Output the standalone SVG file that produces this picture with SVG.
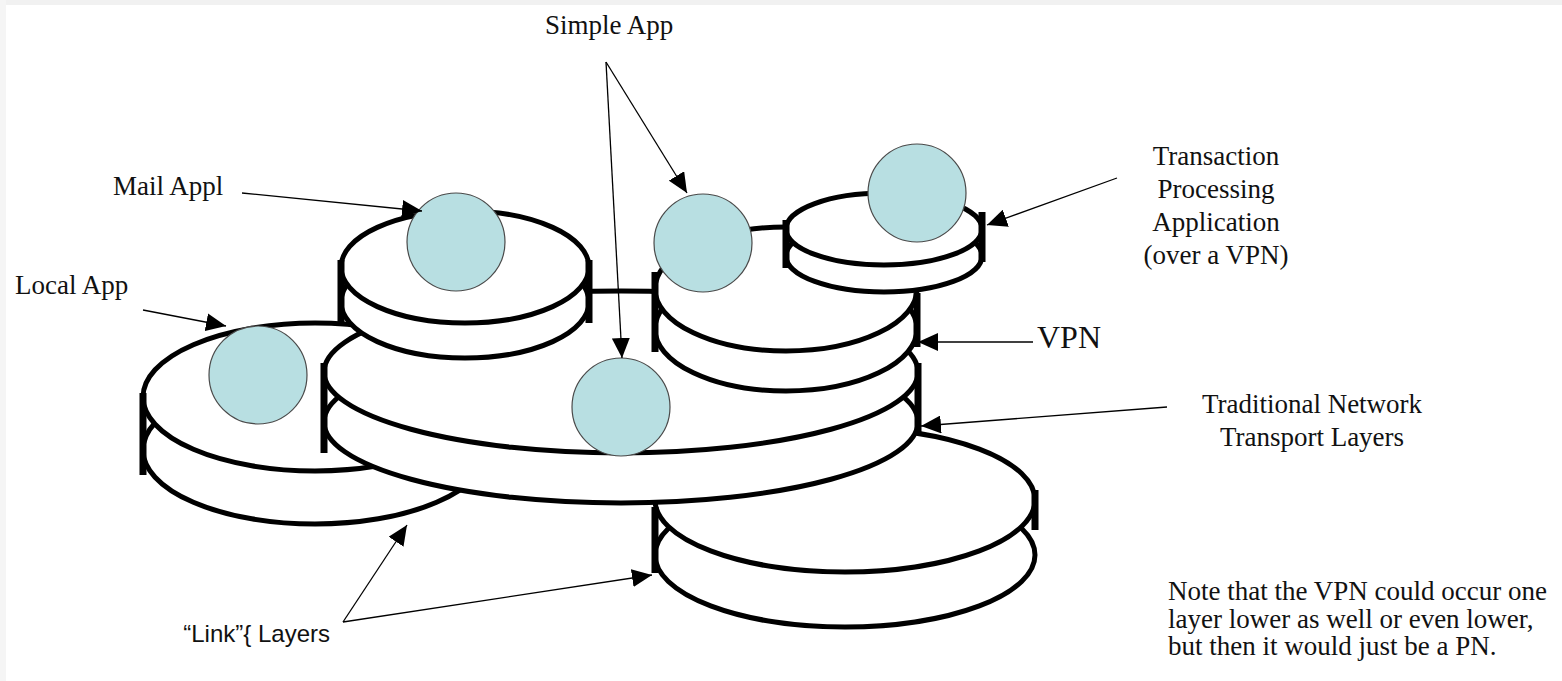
<svg xmlns="http://www.w3.org/2000/svg" width="1562" height="681" viewBox="0 0 1562 681">
  <style>
    .disc ellipse { fill: #ffffff; stroke: #000000; stroke-width: 5; }
    .bar { fill: #000000; }
    .app { fill: #b8dfe2; stroke: #4a4a4a; stroke-width: 1.2; }
    .conn line { stroke: #000000; stroke-width: 1.3; marker-end: url(#ah); }
    .lbl { font-family: "Liberation Serif", "Times New Roman", serif; font-size: 27px; fill: #111111; }
    .lbl-sans { font-family: "Liberation Sans", Arial, sans-serif; font-size: 24px; fill: #111111; }
  </style>
  <defs>
    <marker id="ah" markerUnits="userSpaceOnUse" markerWidth="20" markerHeight="18" refX="20" refY="9" orient="auto">
      <path d="M0,0 L20,9 L0,18 z" fill="#000000"/>
    </marker>
  </defs>

  <rect x="0" y="0" width="1562" height="681" fill="#ffffff"/>
  <!-- faint page edges -->
  <rect x="0" y="0" width="1562" height="5" fill="#f1f1f1"/>
  <rect x="0" y="0" width="6" height="681" fill="#f5f5f5"/>

  <!-- lowest link layer, right -->
  <g id="disc-link-right" class="disc">
    <ellipse cx="845" cy="555" rx="190" ry="72"/>
    <ellipse cx="845" cy="500" rx="190" ry="72"/>
    <rect class="bar" x="651.5" y="507" width="7" height="66"/>
    <rect class="bar" x="1031.5" y="490" width="7" height="40"/>
  </g>

  <!-- local link layer, left -->
  <g id="disc-link-left" class="disc">
    <ellipse cx="315" cy="450" rx="172" ry="74"/>
    <ellipse cx="315" cy="397" rx="172" ry="74"/>
    <rect class="bar" x="139.5" y="393" width="7" height="82"/>
  </g>

  <!-- traditional network transport layers -->
  <g id="disc-transport" class="disc">
    <ellipse cx="621" cy="422" rx="297" ry="81"/>
    <ellipse cx="621" cy="372" rx="297" ry="81"/>
    <rect class="bar" x="320.5" y="363" width="7" height="90"/>
    <rect class="bar" x="914.5" y="363" width="7" height="70"/>
  </g>

  <!-- mail layer -->
  <g id="disc-mail" class="disc">
    <ellipse cx="465" cy="302" rx="124" ry="56"/>
    <ellipse cx="465" cy="267" rx="124" ry="56"/>
    <rect class="bar" x="337.5" y="260" width="7" height="65"/>
    <rect class="bar" x="585.5" y="260" width="7" height="63"/>
  </g>

  <!-- VPN layer -->
  <g id="disc-vpn" class="disc">
    <ellipse cx="786" cy="329" rx="131" ry="62"/>
    <ellipse cx="786" cy="289" rx="131" ry="62"/>
    <rect class="bar" x="651.5" y="272" width="7" height="80"/>
    <rect class="bar" x="913.5" y="293" width="7" height="54"/>
  </g>

  <!-- transaction processing layer -->
  <g id="disc-tp" class="disc">
    <ellipse cx="884" cy="256" rx="98" ry="36"/>
    <ellipse cx="884" cy="229" rx="98" ry="36"/>
    <rect class="bar" x="782.5" y="220" width="7" height="48"/>
    <rect class="bar" x="978.5" y="212" width="7" height="50"/>
  </g>

  <!-- applications -->
  <g id="app-local"><circle class="app" cx="258" cy="375" r="49"/></g>
  <g id="app-mail"><circle class="app" cx="456" cy="242" r="49"/></g>
  <g id="app-simple-low"><circle class="app" cx="621" cy="407" r="49"/></g>
  <g id="app-simple-vpn"><circle class="app" cx="703" cy="243" r="49"/></g>
  <g id="app-tp"><circle class="app" cx="917" cy="193" r="49"/></g>

  <!-- connectors -->
  <g id="connectors" class="conn">
    <line x1="606" y1="62" x2="687" y2="193"/>
    <line x1="606" y1="62" x2="622" y2="358"/>
    <line x1="242" y1="193" x2="422" y2="211"/>
    <line x1="143" y1="310" x2="226" y2="326"/>
    <line x1="1117" y1="178" x2="987" y2="225"/>
    <line x1="1033" y1="342" x2="918" y2="342"/>
    <line x1="1167" y1="407" x2="921" y2="426"/>
    <line x1="343" y1="622" x2="407" y2="525"/>
    <line x1="343" y1="622" x2="652" y2="575"/>
  </g>

  <!-- labels -->
  <g id="label-simple"><text class="lbl" x="545" y="34">Simple App</text></g>
  <g id="label-mail"><text class="lbl" x="113" y="195">Mail Appl</text></g>
  <g id="label-local"><text class="lbl" x="15" y="294">Local App</text></g>
  <g id="label-tp" text-anchor="middle">
    <text class="lbl" x="1216" y="165">Transaction</text>
    <text class="lbl" x="1216" y="198">Processing</text>
    <text class="lbl" x="1216" y="231">Application</text>
    <text class="lbl" x="1216" y="264">(over a VPN)</text>
  </g>
  <g id="label-vpn"><text class="lbl" x="1037" y="348" style="font-size:32px">VPN</text></g>
  <g id="label-transport" text-anchor="middle">
    <text class="lbl" x="1312" y="413">Traditional Network</text>
    <text class="lbl" x="1312" y="446">Transport Layers</text>
  </g>
  <g id="label-link"><text class="lbl-sans" x="330" y="642" text-anchor="end">“Link”{ Layers</text></g>
  <g id="label-note">
    <text class="lbl" x="1168" y="600">Note that the VPN could occur one</text>
    <text class="lbl" x="1168" y="628">layer lower as well or even lower,</text>
    <text class="lbl" x="1168" y="655">but then it would just be a PN.</text>
  </g>
</svg>
